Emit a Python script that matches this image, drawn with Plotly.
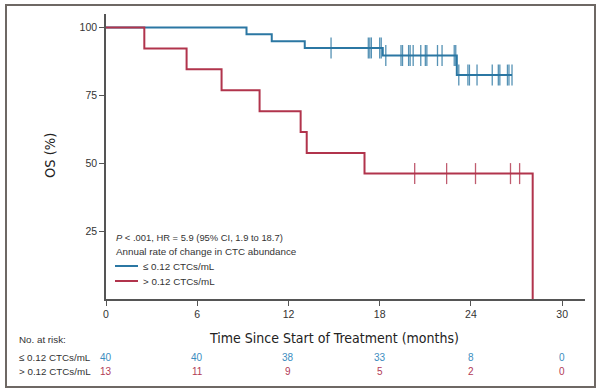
import plotly.graph_objects as go
import numpy as np

# ---------------- data ----------------
blue_times = [0, 9.24, 10.9, 13.07, 18.2, 23.07, 26.7]
blue_surv = [100, 97.5, 95.0, 92.5, 89.7, 82.5, 82.5]
blue_censor = [14.8, 17.25, 17.35, 17.45, 18.0, 18.1, 18.4, 19.4, 19.5, 19.9, 20.0,
               20.2, 20.7, 21.0, 21.1, 21.8, 22.1, 22.9, 23.0, 23.2, 23.8, 23.9,
               24.4, 25.4, 25.8, 25.9, 26.4, 26.5, 26.7]

red_times = [0, 2.52, 5.3, 7.6, 10.1, 12.8, 13.2, 17.0, 28.06]
red_surv = [100, 92.3, 84.6, 76.9, 69.2, 61.5, 53.8, 46.2, 0]
red_censor = [20.3, 22.4, 24.3, 26.6, 27.2]

x_ticks = [0, 6, 12, 18, 24, 30]
y_ticks = [25, 50, 75, 100]
risk_blue = [40, 40, 38, 33, 8, 0]
risk_red = [13, 11, 9, 5, 2, 0]

group_labels = ["≤ 0.12 CTCs/mL", "> 0.12 CTCs/mL"]
stat_text = "<i>P</i> < .001, HR = 5.9 (95% CI, 1.9 to 18.7)"
legend_title = "Annual rate of change in CTC abundance"
x_title = "Time Since Start of Treatment (months)"
y_title = "OS (%)"

BLUE = "#2b77a3"
RED = "#b1344c"
BLUE_TXT = "#3b8dc0"
RED_TXT = "#b23a56"
AX = "#555555"
TXT = "#333333"
FONT = "Liberation Sans, Arial, sans-serif"
NARROW = "Liberation Sans Narrow, DejaVu Sans Condensed, Arial Narrow, sans-serif"


def step_at(times, surv, t):
    idx = np.searchsorted(np.array(times), t, side="right") - 1
    return surv[max(idx, 0)]


fig = go.Figure()
for times, surv, cens, col in [(blue_times, blue_surv, blue_censor, BLUE),
                               (red_times, red_surv, red_censor, RED)]:
    fig.add_trace(go.Scatter(x=times, y=surv, mode="lines", line=dict(shape="hv", color=col, width=2),
                             showlegend=False, hoverinfo="skip"))
    fig.add_trace(go.Scatter(x=cens, y=[step_at(times, surv, t) for t in cens], mode="markers",
                             marker=dict(symbol="line-ns", size=15, line=dict(color=col, width=1.3)),
                             opacity=0.8, showlegend=False, hoverinfo="skip"))

# plot area in pixels: x 106..585, y 14..299
L, R, T, B = 106, 585, 14, 299
W, H = R - L, B - T


def px(xp):
    return (xp - L) / W


def py(yp):
    return (B - yp) / H


ann = []
# stats + legend
ann.append(dict(x=px(114), y=py(237), xref="paper", yref="paper", text=stat_text, showarrow=False,
                xanchor="left", yanchor="middle", font=dict(family=FONT, size=9.4, color=TXT)))
ann.append(dict(x=px(114), y=py(251), xref="paper", yref="paper", text=legend_title, showarrow=False,
                xanchor="left", yanchor="middle", font=dict(family=FONT, size=9.8, color=TXT)))
shapes = []
for i, (lab, col) in enumerate(zip(group_labels, [BLUE, RED])):
    yy = py(266 + 15 * i)
    shapes.append(dict(type="line", xref="paper", yref="paper", x0=px(115), x1=px(138), y0=yy, y1=yy,
                       line=dict(color=col, width=2)))
    ann.append(dict(x=px(141), y=yy, xref="paper", yref="paper", text=lab, showarrow=False,
                    xanchor="left", yanchor="middle", font=dict(family=FONT, size=9.8, color=TXT)))

# axis titles
ann.append(dict(x=px(334), y=py(338), xref="paper", yref="paper", text=x_title, showarrow=False,
                xanchor="center", yanchor="middle", font=dict(family=NARROW, size=14, color="#222")))
ann.append(dict(x=px(50), y=py(156), xref="paper", yref="paper", text=y_title, showarrow=False,
                textangle=-90, xanchor="center", yanchor="middle", font=dict(family=NARROW, size=14.5, color="#222")))

# at-risk table
ann.append(dict(x=px(17), y=py(339), xref="paper", yref="paper", text="No. at risk:", showarrow=False,
                xanchor="left", yanchor="middle", font=dict(family=FONT, size=9.8, color=TXT)))
for i, (lab, vals, col) in enumerate(zip(group_labels, [risk_blue, risk_red], [BLUE_TXT, RED_TXT])):
    yy = py(357 + 14.5 * i)
    ann.append(dict(x=px(17), y=yy, xref="paper", yref="paper", text=lab, showarrow=False,
                    xanchor="left", yanchor="middle", font=dict(family=FONT, size=9.8, color=TXT)))
    for xv, v in zip(x_ticks, vals):
        ann.append(dict(x=xv, y=yy, xref="x", yref="paper", text=str(v), showarrow=False,
                        xanchor="center", yanchor="middle", font=dict(family=FONT, size=10, color=col)))

# outer frame
shapes.append(dict(type="rect", xref="paper", yref="paper", x0=px(6), x1=px(595), y0=py(387), y1=py(5),
                   line=dict(color="#6e6864", width=2), fillcolor="rgba(0,0,0,0)", layer="below"))

fig.update_layout(
    width=600, height=392,
    margin=dict(l=L, r=600 - R, t=T, b=392 - B),
    paper_bgcolor="white", plot_bgcolor="white",
    font=dict(family=FONT, size=10, color=TXT),
    annotations=ann, shapes=shapes,
    xaxis=dict(range=[0, 31.5], tickvals=x_ticks, showgrid=False, zeroline=False, showline=True,
               linecolor=AX, linewidth=1.5, ticks="outside", ticklen=5, tickcolor=AX, tickwidth=1.2,
               tickfont=dict(family=FONT, size=10.5, color=TXT)),
    yaxis=dict(range=[0, 105], tickvals=y_ticks, showgrid=False, zeroline=False, showline=True,
               linecolor=AX, linewidth=1.5, ticks="outside", ticklen=5, tickcolor=AX, tickwidth=1.2,
               tickfont=dict(family=FONT, size=10.5, color=TXT)),
)

fig.write_html("out.html", config={"displayModeBar": False},
               post_script="document.body.style.margin='0';document.body.style.overflow='hidden';")
